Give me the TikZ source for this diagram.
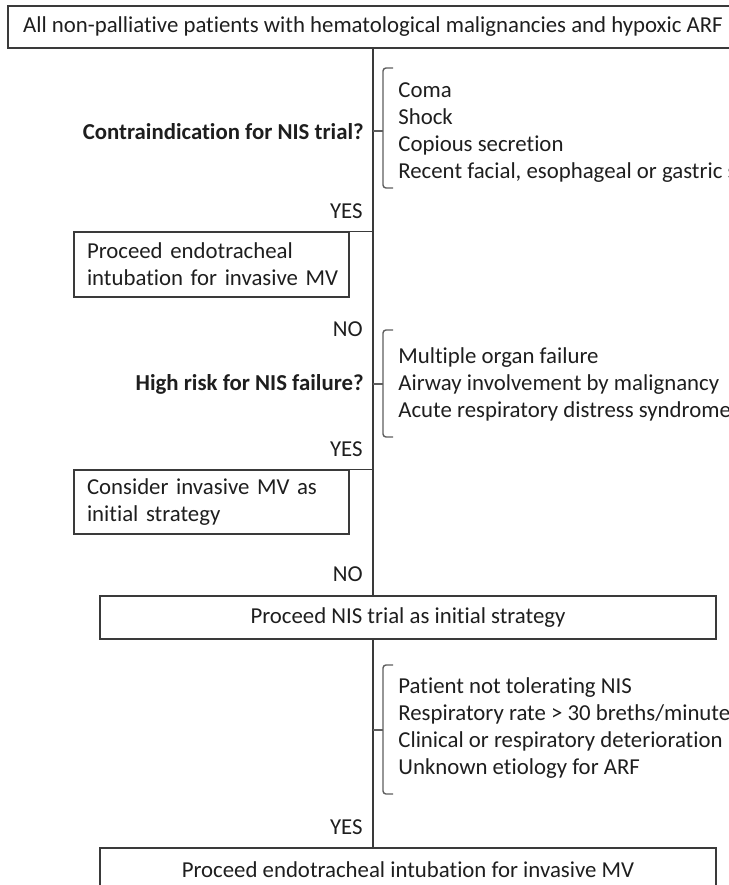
\documentclass[tikz,border=0pt]{standalone}
\usepackage{fontspec}
\setmainfont[Ligatures=NoCommon]{Carlito}
\usepackage{xcolor}
\usetikzlibrary{positioning}
\definecolor{linegray}{HTML}{3A3A3A}
\definecolor{bracegray}{HTML}{5E5E5E}
\definecolor{txt}{HTML}{1E1E1E}
\tikzset{
  box/.style={draw=linegray, line width=0.75pt, inner sep=0pt, text=txt, font=\fontsize{11.4}{13.5}\selectfont},
  lbox/.style={box, align=left, text width=128.5pt, inner xsep=4.5pt, minimum width=137.5pt},
  wbox/.style={box, align=center, minimum width=308pt, minimum height=21.5pt},
  label/.style={text=txt, font=\fontsize{11.4}{13.5}\selectfont, inner sep=0pt},
  question/.style={label, font=\fontsize{11.4}{13.5}\selectfont\bfseries, anchor=east},
  answer/.style={label, anchor=east},
  items/.style={label, align=left, anchor=west},
  flow/.style={draw=linegray, line width=0.75pt},
  brace/.style={draw=bracegray, line width=0.7pt, rounded corners=1.5pt}
}

\begin{document}
\begin{tikzpicture}[x=0.5pt, y=-0.5pt]
  \useasboundingbox (0,0) rectangle (729,885);
  \node[box, minimum width=365pt, minimum height=21pt] (top) at (373,27) {All non-palliative patients with hematological malignancies and hypoxic ARF};
  % first question
  \node[question] (q1) at (364,132) {Contraindication for NIS trial?};
  \node[items] (list1) at (398,132.5) {Coma\\Shock\\Copious secretion\\Recent facial, esophageal or gastric surgery};
  \node[answer] (yes1) at (363,211) {YES};
  \node[lbox, minimum height=32.5pt] (intub1) at (211.5,264.5) {\hspace*{2pt}Proceed endotracheal\\\hspace*{2pt}intubation for invasive MV};
  % second question
  \node[answer] (no1) at (363,329) {NO};
  \node[question] (q2) at (364,384) {High risk for NIS failure?};
  \node[items] (list2) at (398,384) {Multiple organ failure\\Airway involvement by malignancy\\Acute respiratory distress syndrome};
  \node[answer] (yes2) at (363,449) {YES};
  \node[lbox, minimum height=32pt] (consider) at (211.5,502) {\hspace*{2pt}Consider invasive MV as\\\hspace*{2pt}initial strategy};
  \node[answer] (no2) at (363,574) {NO};
  % NIS trial
  \node[wbox] (trial) at (408,617.5) {Proceed NIS trial as initial strategy};
  \node[items] (list3) at (398,728.5) {Patient not tolerating NIS\\Respiratory rate > 30 breths/minute\\Clinical or respiratory deterioration\\Unknown etiology for ARF};
  \node[answer] (yes3) at (363,827) {YES};
  \node[wbox, minimum height=22pt] (intub2) at (408,870) {Proceed endotracheal intubation for invasive MV};

  \draw[flow] (top.south -| 373,0) -- (trial.north -| 373,0);
  \draw[flow] (trial.south -| 373,0) -- (intub2.north -| 373,0);
  \draw[flow] (intub1.north east) -- (intub1.north east -| 373,0);
  \draw[flow] (consider.north east) -- (consider.north east -| 373,0);

  % braces
  \draw[brace] (393,68) -- (383,68) -- (383,188) -- (393,188);
  \draw[brace] (373,131) -- (383,131);
  \draw[brace] (393,330) -- (383,330) -- (383,437) -- (393,437);
  \draw[brace] (373,384) -- (383,384);
  \draw[brace] (393,665) -- (383,665) -- (383,794) -- (393,794);
  \draw[brace] (373,730) -- (383,730);
\end{tikzpicture}
\end{document}
